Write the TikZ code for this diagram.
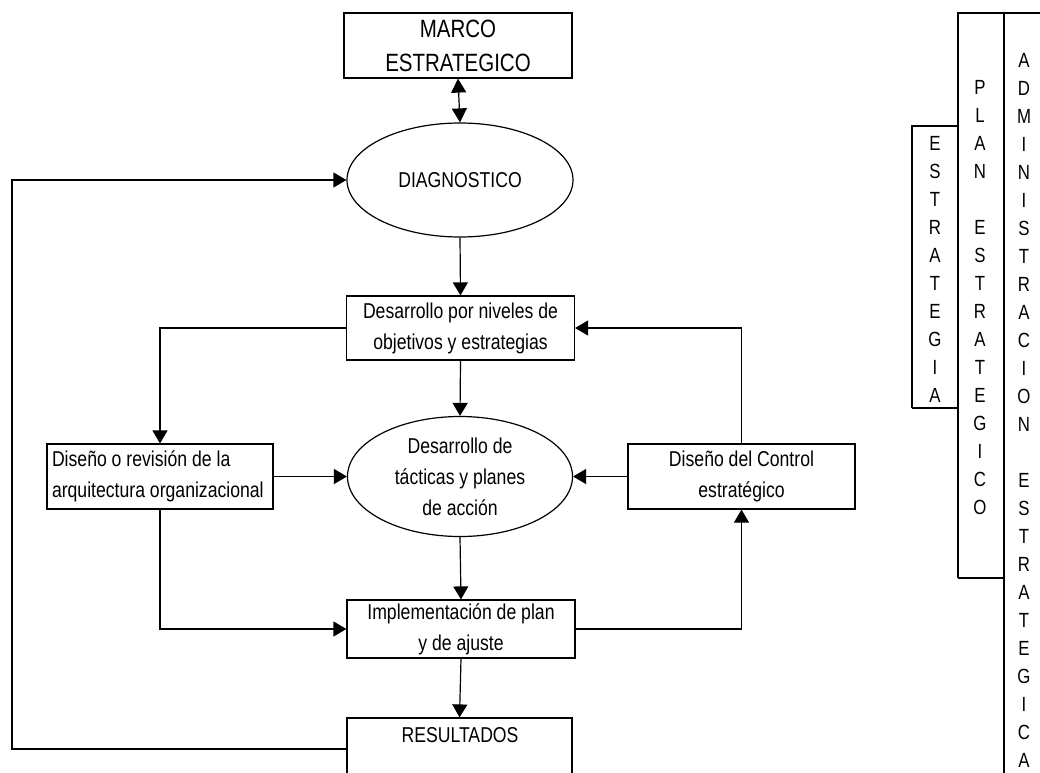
\documentclass[tikz,border=0pt]{standalone}
\usepackage{fontspec}
\setmainfont{Liberation Sans}[FakeStretch=0.82]
\usetikzlibrary{arrows.meta,shapes.geometric}
\tikzset{
  boxn/.style={draw, line width=1.2pt, rectangle, inner sep=0pt, minimum width=228pt, minimum height=66pt},
  elln/.style={draw, line width=1.2pt, ellipse, inner sep=0pt},
  txt/.style={font=\fontsize{21.5}{31}\selectfont, align=center, inner sep=0pt},
  conn/.style={line width=1.2pt, -{Triangle[length=13pt,width=15pt]}},
  dconn/.style={line width=1.2pt, {Triangle[length=14pt,width=15pt]}-{Triangle[length=14pt,width=15pt]}},
  colline/.style={line width=2.6pt},
  colletter/.style={font=\fontsize{20.5}{24}\selectfont, inner sep=0pt},
}
\begin{document}
\begin{tikzpicture}[x=1pt,y=-1pt]
\useasboundingbox (0,0) rectangle (1040,772);
\clip (0,0) rectangle (1040,772);
\fill[white] (0,0) rectangle (1040,772);

% main nodes
\node[boxn, minimum height=65pt] (marco) at (458,45.5) {};
\node[txt, font=\fontsize{25}{34}\selectfont] (marcot) at (marco) {MARCO\\ESTRATEGICO};

\node[elln, minimum width=226pt, minimum height=114pt] (diag) at (460,180) {};
\node[txt] (diagt) at (diag) {DIAGNOSTICO};

\node[boxn, minimum height=64pt] (des) at (460.5,328) {};
\node[txt] (dest) at (des) {Desarrollo por niveles de\\objetivos y estrategias};

\node[elln, minimum width=225pt, minimum height=120pt] (tac) at (460,476.5) {};
\node[txt] (tact) at (tac) {Desarrollo de\\tácticas y planes\\de acción};

\node[boxn, minimum width=226pt, minimum height=65pt] (arq) at (160,476.5) {};
\node[txt, align=flush left, text width=216pt] (arqt) at (arq) {Diseño o revisión de la\\arquitectura organizacional};

\node[boxn, minimum width=227pt, minimum height=65pt] (ctrl) at (741.5,476.5) {};
\node[txt] (ctrlt) at (ctrl) {Diseño del Control\\estratégico};

\node[boxn, minimum height=58pt] (impl) at (461,629) {};
\node[txt] (implt) at (impl) {Implementación de plan\\y de ajuste};

\node[boxn, minimum width=225pt, minimum height=80pt] (res) at (459.5,758) {};
\node[txt] (rest) at (460,735) {RESULTADOS};

\coordinate (fb) at (12,749);

% connectors
\draw[dconn] (marco.south) -- (diag.north);
\draw[conn] (diag.south) -- (des.north);
\draw[conn] (des.south) -- (tac.north);
\draw[conn] (tac.south) -- (impl.north);
\draw[conn] (impl.south) -- (res.north);
\draw[conn] (arq.east) -- (tac.west);
\draw[conn] (ctrl.west) -- (tac.east);
\draw[conn] (des.west) -| (arq.north);
\draw[conn] (ctrl.north) |- (des.east);
\draw[conn] (arq.south) |- (impl.west);
\draw[conn] (impl.east) -| (ctrl.south);
\draw[conn] (res.west |- fb) -- (fb) |- (diag.west);

% right-hand columns
\draw[colline] (912,408) -- (912,126) -- (958,126);
\draw[colline] (912,408) -- (958,408);
\draw[colline] (958,578) -- (958,13) -- (1042,13);
\draw[colline] (958,578) -- (1004,578);
\draw[colline] (1004,13) -- (1004,775);

\foreach \l/\i in {E/0,S/1,T/2,R/3,A/4,T/5,E/6,G/7,I/8,A/9}
  \node[colletter] (es\i) at (935,143+\i*28) {\l};
\foreach \l/\i in {P/0,L/1,A/2,N/3,E/5,S/6,T/7,R/8,A/9,T/10,E/11,G/12,I/13,C/14,O/15}
  \node[colletter] (pl\i) at (980,87.5+\i*28) {\l};
\foreach \l/\i in {A/0,D/1,M/2,I/3,N/4,I/5,S/6,T/7,R/8,A/9,C/10,I/11,O/12,N/13,E/15,S/16,T/17,R/18,A/19,T/20,E/21,G/22,I/23,C/24,A/25}
  \node[colletter] (ad\i) at (1024,60+\i*28) {\l};
\end{tikzpicture}
\end{document}
